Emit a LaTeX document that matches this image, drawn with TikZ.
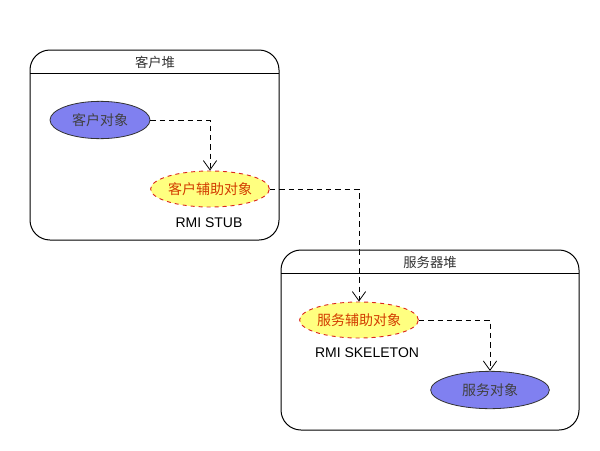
\documentclass[tikz,border=0pt]{standalone}
\usepackage{fontspec}
\setmainfont{Liberation Sans}
\newfontfamily\cjk{Noto Sans CJK SC}
\usetikzlibrary{shapes.geometric,arrows.meta}
\definecolor{objblue}{RGB}{128,128,240}
\definecolor{helpyellow}{RGB}{255,255,128}
\definecolor{helpred}{RGB}{220,40,30}
\definecolor{helptext}{RGB}{210,60,0}
\tikzset{
  heap/.style={draw=black, rounded corners=15pt, line width=0.75pt},
  heaptitle/.style={font=\cjk\fontsize{10}{12}\selectfont, text=black!80},
  obj/.style={ellipse, draw=black!80, fill=objblue, line width=0.6pt, inner sep=0pt,
     minimum width=75pt, minimum height=28pt, font=\cjk\fontsize{10.5}{12}\selectfont, text=black!75},
  helper/.style={ellipse, draw=helpred, dashed, fill=helpyellow, line width=0.7pt, inner sep=0pt,
     minimum width=89pt, minimum height=27pt, font=\cjk\fontsize{10.5}{12}\selectfont, text=helptext},
  caption/.style={font=\fontsize{10.5}{12}\selectfont},
  flow/.style={draw=black, dashed, dash pattern=on 4pt off 3pt, line width=0.6pt,
     -{Straight Barb[length=7pt,width=10pt,line width=0.6pt]}}
}
\begin{document}
\begin{tikzpicture}[x=0.75pt,y=-0.75pt]
\useasboundingbox (0,0) rectangle (600,450);
% client heap
\draw[heap] (30,50) rectangle (279,240);
\draw[line width=0.5pt] (30,73) -- (279,73);
\node[heaptitle] (t1) at (155,62) {客户堆};
% server heap
\draw[heap] (281,250) rectangle (579,430);
\draw[line width=0.5pt] (281,273) -- (579,273);
\node[heaptitle] (t2) at (430,262) {服务器堆};
% nodes
\node[obj] (co) at (100,120) {客户对象};
\node[helper] (ch) at (210,189) {客户辅助对象};
\node[caption] (stub) at (209,223) {RMI STUB};
\node[helper] (sh) at (359,320) {服务辅助对象};
\node[caption] (skel) at (367,353) {RMI SKELETON};
\node[obj, minimum width=89pt] (so) at (490,390) {服务对象};
% connectors
\draw[flow] (co.east) -| (ch.north);
\draw[flow] (ch.east) -| (sh.north);
\draw[flow] (sh.east) -| (so.north);
\end{tikzpicture}
\end{document}
